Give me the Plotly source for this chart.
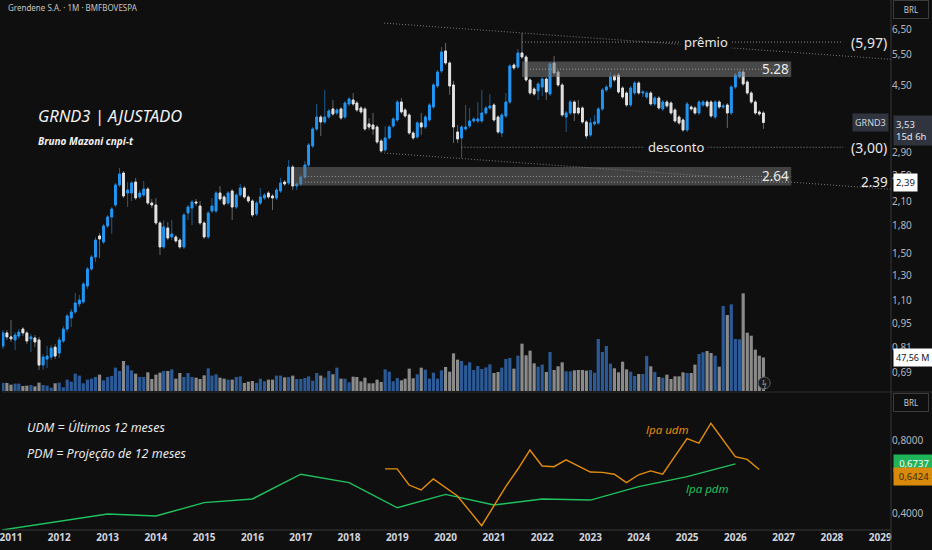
import math
import pandas as pd
import plotly.graph_objects as go

# ---------------- data ----------------
months = pd.date_range("2010-11-01", periods=190, freq="MS")

open_ = [
    0.818, 0.891,
    0.868, 0.851, 0.873, 0.914, 0.891, 0.857, 0.862, 0.851, 0.722, 0.751, 0.761, 0.812,
    0.781, 0.845, 0.914, 0.983, 1.022, 1.077, 1.091, 1.211, 1.354, 1.464, 1.680, 1.615,
    1.793, 1.902, 2.057, 2.345, 2.536, 2.225, 2.225, 2.391, 2.168, 2.196, 2.284, 2.084,
    2.057, 1.829, 1.563, 1.770, 1.669, 1.669, 1.636, 1.563, 1.952, 2.017, 2.098, 2.044,
    1.829, 1.669, 1.978, 1.978, 2.225, 2.168, 2.084, 2.254, 2.030, 2.196, 2.299, 2.168,
    2.112, 1.940, 2.084, 2.154, 2.225, 2.182, 2.154, 2.254, 2.391, 2.376, 2.637, 2.329,
    2.360, 2.471, 2.672, 3.026, 3.382, 3.658, 3.541, 3.658, 3.855, 3.755, 3.855, 3.658,
    3.983, 4.088, 4.009, 3.880, 3.855, 3.495, 3.472, 3.426, 3.127, 2.948, 3.189, 3.449,
    3.587, 4.035, 3.830, 3.706, 3.295, 3.210, 3.518, 3.426, 3.587, 3.906, 4.480, 4.943,
    5.633, 5.208, 4.510, 3.316, 3.189, 3.382, 3.449, 3.564, 3.564, 3.564, 3.755, 3.880,
    3.957, 3.658, 3.295, 3.682, 4.035, 5.140, 5.073, 5.560, 5.416, 4.660, 4.394, 4.337,
    4.451, 4.690, 4.253, 5.208, 4.910, 4.510, 3.658, 3.755, 4.035, 3.880, 3.880, 3.541,
    3.252, 3.495, 3.518, 3.855, 4.365, 4.451, 4.784, 4.815, 4.422, 4.280, 3.957, 4.280,
    4.569, 4.280, 4.169, 4.280, 3.983, 4.142, 3.855, 4.035, 4.009, 3.830, 3.658, 3.587,
    3.360, 3.906, 3.880, 3.755, 3.957, 4.035, 4.035, 3.658, 4.035, 3.906, 3.957, 3.755,
    4.451, 4.752, 4.910, 4.599, 4.280, 4.035, 3.780, 3.755,
]

high = [
    0.908, 0.908,
    0.970, 0.896, 0.914, 0.926, 0.902, 0.885, 0.879, 0.868, 0.776, 0.818, 0.823, 0.829,
    0.868, 0.932, 1.009, 1.042, 1.157, 1.142, 1.243, 1.372, 1.483, 1.669, 1.713, 1.817,
    1.927, 2.030, 2.376, 2.620, 2.569, 2.391, 2.407, 2.455, 2.269, 2.407, 2.314, 2.140,
    2.154, 1.853, 1.865, 1.841, 1.865, 1.691, 1.658, 1.952, 2.057, 2.126, 2.140, 2.112,
    1.853, 1.978, 2.154, 2.254, 2.329, 2.196, 2.254, 2.284, 2.225, 2.360, 2.329, 2.196,
    2.140, 2.112, 2.299, 2.225, 2.254, 2.210, 2.299, 2.455, 2.423, 2.761, 2.672, 2.391,
    2.503, 2.743, 3.086, 3.426, 3.983, 3.706, 4.365, 3.855, 4.088, 3.880, 3.906, 4.062,
    4.169, 4.280, 4.062, 3.931, 3.906, 3.634, 3.755, 3.472, 3.168, 3.449, 3.472, 3.658,
    4.088, 4.142, 3.880, 3.755, 3.338, 3.564, 3.755, 3.706, 4.009, 4.569, 4.975, 5.782,
    5.935, 5.277, 4.630, 3.472, 3.472, 3.957, 3.880, 3.658, 4.035, 4.365, 3.931, 4.253,
    4.009, 3.706, 3.755, 4.280, 5.174, 5.208, 5.707, 6.335, 5.487, 4.721, 4.451, 4.599,
    4.752, 4.752, 5.243, 5.452, 4.975, 4.569, 3.805, 4.088, 4.088, 4.088, 3.931, 3.587,
    3.634, 3.706, 3.906, 4.422, 4.510, 4.910, 4.847, 4.879, 4.480, 4.337, 4.480, 4.630,
    4.630, 4.365, 4.337, 4.337, 4.197, 4.197, 4.088, 4.088, 4.062, 3.880, 3.706, 3.634,
    4.035, 3.957, 3.931, 4.088, 4.088, 4.088, 4.088, 4.088, 4.088, 3.983, 4.009, 4.510,
    4.879, 4.975, 4.975, 4.660, 4.337, 4.088, 3.830, 3.805,
]

low = [
    0.802, 0.851,
    0.840, 0.797, 0.857, 0.873, 0.829, 0.786, 0.812, 0.699, 0.699, 0.708, 0.746, 0.751,
    0.756, 0.834, 0.896, 0.926, 1.009, 1.056, 1.077, 1.188, 1.336, 1.417, 1.455, 1.594,
    1.770, 1.702, 2.030, 2.314, 2.154, 2.030, 2.112, 2.126, 2.140, 2.168, 2.057, 2.017,
    1.805, 1.483, 1.543, 1.636, 1.636, 1.605, 1.543, 1.543, 1.865, 1.805, 2.044, 1.805,
    1.647, 1.647, 1.952, 1.952, 2.112, 2.044, 2.057, 1.865, 2.004, 2.168, 2.140, 2.084,
    1.902, 1.915, 2.057, 2.126, 2.140, 1.991, 2.126, 2.225, 2.329, 2.345, 2.269, 2.269,
    2.329, 2.439, 2.637, 2.987, 3.338, 3.231, 3.495, 3.611, 3.682, 3.706, 3.587, 3.611,
    3.931, 3.931, 3.780, 3.730, 3.338, 3.360, 3.252, 3.066, 2.891, 2.910, 3.147, 3.404,
    3.541, 3.730, 3.634, 3.252, 3.147, 3.168, 3.252, 3.382, 3.541, 3.855, 4.422, 4.879,
    5.140, 4.225, 3.086, 3.086, 2.797, 3.338, 3.404, 3.518, 3.518, 3.518, 3.706, 3.830,
    3.541, 3.273, 3.210, 3.634, 3.983, 4.975, 5.008, 5.346, 4.599, 4.225, 4.197, 4.088,
    4.197, 4.088, 4.197, 4.815, 4.451, 3.658, 3.316, 3.706, 3.564, 3.706, 3.495, 3.168,
    3.210, 3.449, 3.472, 3.805, 4.308, 4.394, 4.599, 4.253, 4.115, 3.906, 3.906, 4.225,
    4.225, 4.169, 4.115, 3.931, 3.931, 3.830, 3.805, 3.880, 3.706, 3.518, 3.472, 3.316,
    3.316, 3.805, 3.706, 3.706, 3.906, 3.880, 3.634, 3.611, 3.855, 3.855, 3.404, 3.706,
    4.394, 4.690, 4.480, 4.225, 3.983, 3.706, 3.682, 3.382,
]

close = [
    0.891, 0.868,
    0.857, 0.879, 0.896, 0.891, 0.845, 0.868, 0.840, 0.722, 0.761, 0.766, 0.807, 0.766,
    0.851, 0.914, 0.996, 1.022, 1.084, 1.105, 1.227, 1.354, 1.464, 1.636, 1.647, 1.793,
    1.902, 2.004, 2.345, 2.519, 2.182, 2.269, 2.376, 2.154, 2.225, 2.284, 2.084, 2.057,
    1.829, 1.563, 1.782, 1.658, 1.702, 1.626, 1.563, 1.927, 2.030, 2.098, 2.084, 1.829,
    1.669, 1.952, 2.044, 2.225, 2.140, 2.070, 2.225, 2.030, 2.196, 2.299, 2.168, 2.112,
    1.927, 2.084, 2.168, 2.196, 2.168, 2.154, 2.269, 2.376, 2.360, 2.637, 2.329, 2.360,
    2.471, 2.672, 3.046, 3.382, 3.658, 3.541, 3.658, 3.805, 3.730, 3.830, 3.634, 4.009,
    4.115, 3.983, 3.830, 3.780, 3.382, 3.426, 3.382, 3.106, 2.929, 3.189, 3.426, 3.611,
    4.035, 3.780, 3.682, 3.295, 3.189, 3.518, 3.426, 3.658, 3.957, 4.510, 4.910, 5.596,
    5.208, 4.480, 3.426, 3.168, 3.426, 3.426, 3.564, 3.611, 3.611, 3.755, 3.880, 3.931,
    3.587, 3.316, 3.706, 4.035, 5.107, 5.040, 5.560, 5.416, 4.660, 4.280, 4.253, 4.540,
    4.690, 4.308, 5.174, 4.879, 4.510, 3.706, 3.755, 4.035, 3.755, 3.755, 3.541, 3.231,
    3.518, 3.541, 3.855, 4.365, 4.451, 4.752, 4.660, 4.308, 4.169, 3.957, 4.422, 4.569,
    4.280, 4.308, 4.280, 3.983, 4.142, 3.880, 4.035, 3.931, 3.755, 3.564, 3.518, 3.360,
    3.983, 3.855, 3.755, 4.035, 4.035, 3.931, 3.682, 4.035, 3.906, 3.931, 3.755, 4.451,
    4.815, 4.910, 4.540, 4.280, 4.035, 3.755, 3.730, 3.530,
]

volume_m = [
    11.4, 11.4, 9.0, 10.4, 10.4, 7.1, 7.6, 8.5, 6.6, 11.8,
    8.5, 7.6, 4.7, 10.9, 11.8, 5.2, 16.1, 13.2, 24.6, 21.8,
    10.9, 16.1, 17.5, 19.9, 23.2, 15.1, 19.9, 21.3, 33.1, 28.4,
    42.6, 36.4, 29.3, 24.6, 19.9, 19.9, 26.5, 17.0, 23.2, 26.0,
    28.4, 28.4, 30.7, 17.5, 25.5, 19.9, 25.5, 19.9, 18.9, 17.0,
    22.2, 32.2, 21.8, 23.7, 18.9, 17.5, 16.1, 16.1, 19.9, 20.8,
    11.4, 13.2, 14.2, 11.4, 17.5, 13.7, 16.1, 16.1, 21.8, 21.8,
    19.4, 19.9, 21.8, 17.0, 17.0, 18.4, 20.8, 14.7, 25.5, 21.8,
    18.9, 28.4, 23.7, 33.1, 17.5, 17.5, 12.3, 20.3, 19.9, 13.7,
    18.9, 10.9, 10.9, 16.1, 12.8, 30.7, 27.4, 13.7, 18.4, 15.1,
    17.5, 31.7, 18.0, 23.7, 33.1, 30.3, 17.5, 26.0, 17.5, 29.3,
    34.1, 27.4, 53.4, 44.5, 42.6, 36.4,
    40.7, 29.8, 35.5, 31.2, 33.6, 37.8, 25.5, 27.0, 33.1, 45.4,
    46.8, 31.7, 50.1, 67.2, 50.6, 57.2, 39.3, 34.5, 37.4, 27.0,
    55.3, 29.8, 35.0, 40.7, 27.9, 27.9, 29.3, 29.8, 29.8, 28.9,
    29.8, 26.0, 73.8, 55.3, 63.9, 38.8, 32.2, 26.5, 41.6, 30.7,
    27.4, 21.3, 24.1, 24.1, 49.7, 35.0, 27.0, 19.9, 18.9, 23.2,
    17.0, 20.8, 20.8, 26.5, 25.5, 25.5, 37.4, 52.5, 54.9, 56.8,
    53.9, 50.1, 34.5, 120.6, 107.8, 123.0, 73.8, 73.3, 138.6, 82.8,
    78.5, 58.7, 50.1, 47.56,
]

pdm_dates = ["2010-01-01", "2013-01-01", "2014-01-01", "2015-01-01", "2016-01-01",
             "2017-01-01", "2018-01-01", "2019-01-01", "2020-01-01", "2021-01-01",
             "2022-01-01", "2023-01-01", "2024-01-01", "2025-01-01", "2026-01-01"]
pdm_values = [0.28, 0.400, 0.389, 0.462, 0.482, 0.617, 0.571, 0.434, 0.507, 0.449,
              0.482, 0.476, 0.549, 0.604, 0.6737]

udm_dates = ["2018-09-30", "2018-12-31", "2019-03-31", "2019-06-30", "2019-09-30",
             "2020-03-31", "2020-09-30", "2021-03-31", "2021-06-30", "2021-09-30",
             "2021-12-31", "2022-03-31", "2022-06-30", "2022-12-31", "2023-03-31",
             "2023-06-30", "2023-09-30", "2023-12-31", "2024-03-31", "2024-06-30",
             "2024-12-31", "2025-03-31", "2025-06-30", "2025-12-31", "2026-03-31",
             "2026-06-30"]
udm_values = [0.646, 0.646, 0.558, 0.531, 0.591, 0.498, 0.336, 0.549, 0.644, 0.749,
              0.662, 0.658, 0.695, 0.629, 0.627, 0.617, 0.571, 0.614, 0.635, 0.617,
              0.811, 0.786, 0.895, 0.713, 0.698, 0.6424]

year_labels = [str(y) for y in range(2011, 2030)]
price_ticks = [6.5, 5.5, 4.5, 2.9, 2.5, 2.1, 1.8, 1.5, 1.3, 1.1, 0.95, 0.81, 0.69]
price_tick_text = ["6,50", "5,50", "4,50", "2,90", "2,50", "2,10", "1,80", "1,50",
                   "1,30", "1,10", "0,95", "0,81", "0,69"]
lpa_ticks = [0.4, 0.8]
lpa_tick_text = ["0,4000", "0,8000"]

premio_level = 5.97
desconto_level = 3.00
premio_dates = ["2021-08-01", "2028-03-26"]
desconto_dates = ["2020-05-01", "2028-03-26"]
last_price = 3.53
last_volume = 47.56
support_level = 2.39
pdm_last = 0.6737
udm_last = 0.6424

zone_top_dates = ["2021-08-01", "2027-02-27"]
zone_top = [4.75, 5.26]
zone_top_mid = 5.00
zone_bottom_dates = ["2016-11-13", "2027-02-27"]
zone_bottom = [2.335, 2.637]
zone_bottom_lines = [2.48, 2.39]

channel_dates = ["2018-09-23", "2029-06-01"]
channel_upper = [6.76, 5.31]
channel_lower = [2.89, 2.27]

# ---------------- styling helpers ----------------
BG = "#0f0f0f"
PLOT_W, PLOT_H = 891.0, 530.0
FONT = "Noto Sans"


def px(xp):
    return xp / PLOT_W


def py(yp):
    return 1 - yp / PLOT_H


def lg(v):
    return math.log10(v)


fig = go.Figure()

# volume (behind candles)
vol_colors = ["#2b5a96" if c >= o else "#8a8a8a" for o, c in zip(open_, close)]
fig.add_trace(go.Bar(x=months, y=volume_m, marker=dict(color=vol_colors, line=dict(width=0)),
                     width=24 * 86400000, xaxis="x", yaxis="y2", hoverinfo="skip"))


def rect(xs, ys, color):
    return go.Scatter(x=[xs[0], xs[1], xs[1], xs[0], xs[0]],
                      y=[ys[0], ys[0], ys[1], ys[1], ys[0]],
                      mode="lines", fill="toself", fillcolor=color, line=dict(width=0),
                      xaxis="x", yaxis="y3", hoverinfo="skip")


def dotted(xs, ys, color="#8c8c8c"):
    return go.Scatter(x=xs, y=ys, mode="lines",
                      line=dict(color=color, width=1, dash="1px,2px"),
                      xaxis="x", yaxis="y3", hoverinfo="skip")


fig.add_trace(rect(zone_top_dates, zone_top, "rgba(120,120,120,0.55)"))
fig.add_trace(rect(zone_bottom_dates, zone_bottom, "rgba(110,110,110,0.55)"))
fig.add_trace(dotted(["2021-10-01", zone_top_dates[1]], [zone_top_mid, zone_top_mid], "#9a9a9a"))
for lv in zone_bottom_lines:
    fig.add_trace(dotted(["2017-02-01", zone_bottom_dates[1]], [lv, lv], "#9a9a9a"))
fig.add_trace(dotted(channel_dates, channel_upper, "#7a7a7a"))
fig.add_trace(dotted(channel_dates, channel_lower, "#7a7a7a"))
fig.add_trace(dotted(premio_dates, [premio_level] * 2))
fig.add_trace(dotted(desconto_dates, [desconto_level] * 2))

# candles: wicks (dim) then bodies (bright)
fig.add_trace(go.Candlestick(
    x=months, open=open_, high=high, low=low, close=close,
    increasing=dict(line=dict(color="#1d5b8e", width=1), fillcolor="#1d5b8e"),
    decreasing=dict(line=dict(color="#666666", width=1), fillcolor="#666666"),
    xaxis="x", yaxis="y3", hoverinfo="skip"))
body_hi = [max(o, c) for o, c in zip(open_, close)]
body_lo = [min(o, c) for o, c in zip(open_, close)]
fig.add_trace(go.Candlestick(
    x=months, open=open_, high=body_hi, low=body_lo, close=close,
    increasing=dict(line=dict(color="#2196f3", width=1), fillcolor="#2196f3"),
    decreasing=dict(line=dict(color="#e3e3e3", width=1), fillcolor="#e3e3e3"),
    xaxis="x", yaxis="y3", hoverinfo="skip"))

# lower pane: LPA lines
fig.add_trace(go.Scatter(x=pdm_dates, y=pdm_values, mode="lines",
                         line=dict(color="#1fc25e", width=1.4), xaxis="x", yaxis="y", hoverinfo="skip"))
fig.add_trace(go.Scatter(x=udm_dates, y=udm_values, mode="lines",
                         line=dict(color="#e48d0c", width=1.4), xaxis="x", yaxis="y", hoverinfo="skip"))

# ---------------- annotations ----------------
ann = []


def text(t, x, y, size=12, color="#e8e8e8", xanchor="center", yanchor="middle",
         xref="paper", yref="paper", italic=False, weight="normal", bg=None, border=None,
         pad=1, yshift=0, align="center", width=None):
    d = dict(text=t, x=x, y=y, xref=xref, yref=yref, xanchor=xanchor, yanchor=yanchor,
             showarrow=False, align=align, yshift=yshift, borderpad=pad,
             font=dict(family=FONT, size=size, color=color,
                       style="italic" if italic else "normal", weight=weight))
    if bg:
        d["bgcolor"] = bg
    if border:
        d["bordercolor"] = border
        d["borderwidth"] = 1
    if width:
        d["width"] = width
    ann.append(d)


text("Grendene S.A. · 1M · BMFBOVESPA", px(4), py(8), size=8, color="#c4c4c4", xanchor="left")
text("GRND3 | AJUSTADO", px(34), py(116), size=16.5, color="#f2f2f2", xanchor="left", italic=True)
text("Bruno Mazoni cnpi-t", px(34), py(141), size=10, color="#f2f2f2", xanchor="left",
     italic=True, weight="bold")

text("prêmio", px(706), lg(premio_level), yref="y3", size=13, bg=BG, pad=3)
text("(5,97)", px(869), lg(premio_level), yref="y3", size=14)
text("desconto", px(676), lg(desconto_level), yref="y3", size=13, bg=BG, pad=3)
text("(3,00)", px(869), lg(desconto_level), yref="y3", size=14)
text("5.28", px(775), lg(zone_top_mid), yref="y3", size=13.5)
text("2.64", px(775), lg(zone_bottom_lines[0]), yref="y3", size=13.5)
text("2.39", px(874), lg(support_level), yref="y3", size=13.5)

text("UDM = Últimos 12 meses", px(23), py(427), size=12.5, xanchor="left", italic=True)
text("PDM = Projeção de 12 meses", px(23), py(453), size=12.5, xanchor="left", italic=True)
text("lpa udm", px(667), py(429), size=11.5, color="#e48d0c", italic=True)
text("lpa pdm", px(707), py(488), size=11.5, color="#1fc25e", italic=True)

# right-hand scale labels
text("BRL", px(911), py(10), size=8, color="#c8c8c8", border="#3c3c3c", pad=3, width=28)
text("BRL", px(911), py(402), size=8, color="#c8c8c8", border="#3c3c3c", pad=3, width=28)
text("GRND3", px(889), lg(last_price), yref="y3", size=9, color="#d1d4dc", xanchor="right",
     bg="#30343e", pad=2)
text("3,53<br>15d 6h", 1.002, lg(last_price), yref="y3", size=9.5, color="#e0e3eb",
     xanchor="left", yanchor="top", bg="#30343e", pad=2, align="left", yshift=7, width=34)
text("2,39", 1.002, lg(support_level), yref="y3", size=9.5, color="#131722", xanchor="left",
     bg="#ffffff", pad=2)
text("47,56 M", 1.002, last_volume, yref="y2", size=9, color="#131722", xanchor="left",
     bg="#ffffff", pad=2)
text("0,6737", 1.002, pdm_last, yref="y", size=9.5, color="#ffffff", xanchor="left",
     bg="#1fb35a", pad=2, width=36)
text("0,6424", 1.002, udm_last, yref="y", size=9.5, color="#3b2a10", xanchor="left",
     bg="#d98a0a", pad=2, yshift=-7, width=36)
text("ϟ", px(764), py(383), size=8, color="#a0a0a0")

shapes = [
    dict(type="line", xref="paper", yref="paper", x0=0, x1=932 / PLOT_W, y0=py(392), y1=py(392),
         line=dict(color="#2c2c2c", width=1)),
    dict(type="line", xref="paper", yref="paper", x0=0, x1=1, y0=py(530), y1=py(530),
         line=dict(color="#3a3a3a", width=1)),
    dict(type="line", xref="paper", yref="paper", x0=1, x1=1, y0=py(550), y1=py(0),
         line=dict(color="#363636", width=1)),
    dict(type="circle", xref="paper", yref="paper", x0=px(758), x1=px(770), y0=py(389), y1=py(377),
         line=dict(color="#5a5a5a", width=1), fillcolor="#1a1a1a"),
]

fig.update_layout(
    width=932, height=550,
    margin=dict(l=0, r=41, t=0, b=20),
    paper_bgcolor=BG, plot_bgcolor=BG,
    showlegend=False,
    font=dict(family=FONT, color="#d1d4dc"),
    xaxis=dict(type="date", range=["2010-10-25", "2029-03-23"], domain=[0, 1], anchor="y",
               tickmode="array", tickvals=[f"{y}-01-01" for y in year_labels], ticktext=year_labels,
               tickfont=dict(family=FONT, size=10, color="#d1d4dc", weight="bold"),
               ticks="", showgrid=False, zeroline=False, showline=False,
               ticklabeloverflow="allow", rangeslider=dict(visible=False)),
    yaxis=dict(domain=[0, 0.2585], range=[0.3127, 1.060], side="right", anchor="x",
               tickmode="array", tickvals=lpa_ticks, ticktext=lpa_tick_text,
               tickfont=dict(family=FONT, size=10, color="#b2b5be"),
               showgrid=False, zeroline=False, ticks=""),
    yaxis2=dict(domain=[0.2623, 1], range=[0, 555], visible=False, anchor="x"),
    yaxis3=dict(overlaying="y2", side="right", anchor="x", type="log",
                range=[math.log10(0.6095), math.log10(7.862)],
                tickmode="array", tickvals=price_ticks, ticktext=price_tick_text,
                tickfont=dict(family=FONT, size=10, color="#b2b5be"),
                showgrid=False, zeroline=False, ticks=""),
    annotations=ann,
    shapes=shapes,
)

fig.write_html(
    "out.html",
    config={"displayModeBar": False},
    post_script="document.body.style.margin='0';document.body.style.overflow='hidden';"
                "document.body.style.background='#0f0f0f';",
)
